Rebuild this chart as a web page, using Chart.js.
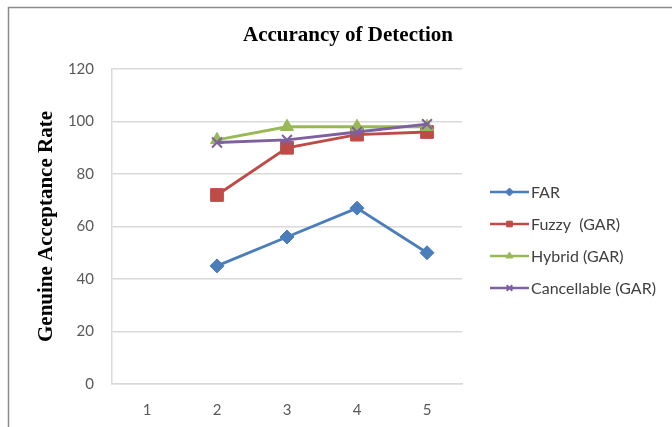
<!DOCTYPE html>
<html lang="en">
<head>
    <meta charset="UTF-8">
    <title>Accurancy of Detection</title>
    <style>
        html, body {
            margin: 0;
            padding: 0;
            background: #ffffff;
        }
        #wrap {
            width: 672px;
            height: 427px;
            position: relative;
        }
    </style>
</head>
<body>
    <div id="wrap">
        <canvas id="accChart" width="672" height="427"></canvas>
    </div>
<script src="https://cdn.jsdelivr.net/npm/chart.js"></script>
<script>
    // Data
    const categories = ['1', '2', '3', '4', '5'];
    const farValues = [null, 45, 56, 67, 50];
    const fuzzyValues = [null, 72, 90, 95, 96];
    const hybridValues = [null, 93, 98, 98, 98];
    const cancellableValues = [null, 92, 93, 96, 99];
    const yTicks = [0, 20, 40, 60, 80, 100, 120];
    const chartTitle = 'Accurancy of Detection';

    const sansFamily = 'Lato, "Open Sans", sans-serif';
    const serifFamily = '"Liberation Serif", "Times New Roman", serif';
    const tickFont = { family: sansFamily, size: 15 };

    // frame, title and legend (line with marker) drawn by hand
    const frameAndLegend = {
        id: 'frameAndLegend',
        beforeDraw(chart) {
            const ctx = chart.ctx;
            ctx.save();
            ctx.fillStyle = '#ffffff';
            ctx.fillRect(0, 0, chart.width, chart.height);
            ctx.strokeStyle = '#8c8c8c';
            ctx.lineWidth = 1.5;
            ctx.beginPath();
            ctx.moveTo(8.5, chart.height);
            ctx.lineTo(8.5, 7.5);
            ctx.lineTo(chart.width, 7.5);
            ctx.stroke();

            ctx.fillStyle = '#000000';
            ctx.font = 'bold 21px ' + serifFamily;
            ctx.textAlign = 'center';
            ctx.textBaseline = 'middle';
            ctx.fillText(chartTitle, 348, 36);
            ctx.restore();
        },
        afterDraw(chart) {
            const ctx = chart.ctx;
            ctx.save();
            ctx.font = '16px ' + sansFamily;
            ctx.textBaseline = 'middle';
            chart.data.datasets.forEach((ds, i) => {
                const y = 192 + i * 32;
                ctx.strokeStyle = ds.borderColor;
                ctx.lineWidth = 2.5;
                ctx.beginPath();
                ctx.moveTo(490, y);
                ctx.lineTo(529, y);
                ctx.stroke();
                ctx.fillStyle = ds.pointBackgroundColor;
                ctx.strokeStyle = ds.pointBorderColor;
                ctx.lineWidth = ds.pointBorderWidth;
                Chart.helpers.drawPoint(ctx, {
                    pointStyle: ds.pointStyle,
                    radius: 4,
                    rotation: 0,
                    borderWidth: ds.pointBorderWidth
                }, 509.5, y);
                ctx.fillStyle = '#404040';
                ctx.fillText(ds.label, 531, y + 1);
            });
            ctx.restore();
        }
    };

    // later series sit on top, like the original (lower order = drawn last)
    function makeSeries(label, data, color, style, radius, order) {
        return {
            label: label,
            data: data,
            order: order,
            borderColor: color,
            backgroundColor: color,
            pointBackgroundColor: color,
            pointBorderColor: color,
            pointBorderWidth: style === 'crossRot' ? 2 : 1,
            pointStyle: style,
            pointRadius: radius,
            borderWidth: 2.8,
            tension: 0,
            spanGaps: false
        };
    }

    new Chart(document.getElementById('accChart'), {
        type: 'line',
        data: {
            labels: categories,
            datasets: [
                makeSeries('FAR', farValues, '#4a7ebb', 'rectRot', 7, 4),
                makeSeries('Fuzzy  (GAR)', fuzzyValues, '#be4b48', 'rect', 9, 3),
                makeSeries('Hybrid (GAR)', hybridValues, '#98b954', 'triangle', 7.5, 2),
                makeSeries('Cancellable (GAR)', cancellableValues, '#7d60a0', 'crossRot', 7, 1)
            ]
        },
        options: {
            responsive: false,
            animation: false,
            layout: {
                padding: { left: 8, right: 210, top: 69, bottom: 9 }
            },
            plugins: {
                legend: { display: false },
                tooltip: { enabled: false },
                title: { display: false }
            },
            scales: {
                x: {
                    offset: true,
                    grid: { display: false, drawTicks: false },
                    border: { display: true, color: '#d9d9d9', width: 1.5 },
                    ticks: { color: '#595959', font: tickFont, padding: 17, maxRotation: 0 },
                    afterFit(scale) {
                        scale.height = 34;
                    }
                },
                y: {
                    min: 0,
                    max: 120,
                    afterBuildTicks(scale) {
                        scale.ticks = yTicks.map(v => ({ value: v }));
                    },
                    afterFit(scale) {
                        scale.width = 104;
                    },
                    grid: { color: '#d9d9d9', lineWidth: 1.5, drawTicks: false },
                    border: { display: true, color: '#d9d9d9', width: 1.5 },
                    ticks: { color: '#595959', font: tickFont, padding: 18 },
                    title: {
                        display: true,
                        text: 'Genuine Acceptance Rate',
                        color: '#000000',
                        font: { family: serifFamily, size: 21, weight: 'bold' },
                        padding: { top: 26, bottom: 0 }
                    }
                }
            }
        },
        plugins: [frameAndLegend]
    });
</script>
</body>
</html>
